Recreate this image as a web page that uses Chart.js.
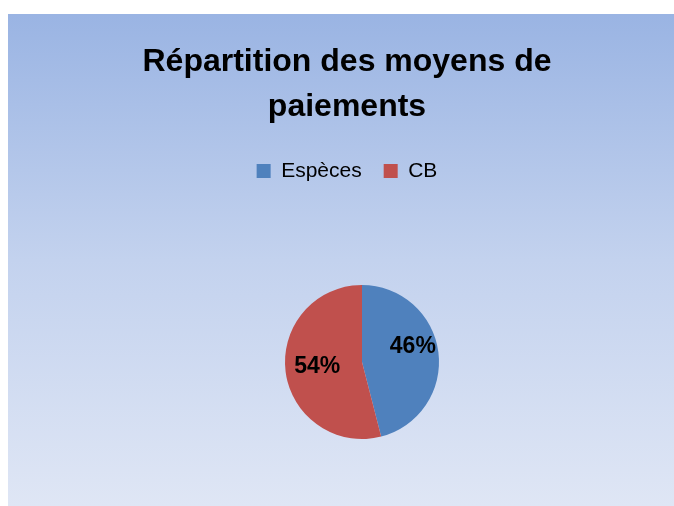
<!DOCTYPE html>
<html lang="fr">
<head>
<meta charset="utf-8">
<title>Répartition des moyens de paiements</title>
<script src="https://cdn.jsdelivr.net/npm/chart.js@4.4.1/dist/chart.umd.min.js"></script>
<style>
  html, body { margin: 0; padding: 0; background: #fff; }
  #frame {
    position: absolute;
    left: 8px;
    top: 14px;
    width: 666px;
    height: 492px;
    background: linear-gradient(to bottom, #9ab4e3 0%, #c3d2ee 50%, #dfe6f5 100%);
  }
</style>
</head>
<body>
<div id="frame"><canvas id="pie-chart" width="666" height="492"></canvas></div>
<script>
const labels = ['Espèces', 'CB'];
const shares = [46, 54];
const colors = ['#4f81bd', '#c0504d'];

const FONT = '"Liberation Sans", Arial, sans-serif';

// Move the pie inside the plot area without moving title and legend
const pieShift = {
  id: 'pieShift',
  afterLayout(chart) {
    const a = chart.chartArea;
    const cx = 354, cy = 348;
    const halfW = (a.right - a.left) / 2;
    const halfH = (a.bottom - a.top) / 2;
    a.left = cx - halfW; a.right = cx + halfW;
    a.top = cy - halfH; a.bottom = cy + halfH;
  },
};

// Percent labels inside the slices (small nudge per slice, like the office "best fit")
const labelNudge = [[5, -10], [1, -1]];
const sliceLabels = {
  id: 'sliceLabels',
  afterDatasetsDraw(chart) {
    const { ctx } = chart;
    const meta = chart.getDatasetMeta(0);
    ctx.save();
    ctx.font = 'bold 23px ' + FONT;
    ctx.fillStyle = '#000';
    ctx.textAlign = 'center';
    ctx.textBaseline = 'middle';
    meta.data.forEach((arc, i) => {
      const { x, y, startAngle, endAngle, outerRadius } = arc.getProps(['x', 'y', 'startAngle', 'endAngle', 'outerRadius'], true);
      const mid = (startAngle + endAngle) / 2;
      const r = outerRadius * 0.6;
      const [nx, ny] = labelNudge[i];
      ctx.fillText(shares[i] + '%', x + Math.cos(mid) * r + nx, y + Math.sin(mid) * r + ny);
    });
    ctx.restore();
  },
};

new Chart(document.getElementById('pie-chart'), {
  type: 'pie',
  data: {
    labels: labels,
    datasets: [{
      data: shares,
      backgroundColor: colors,
      borderWidth: 0,
      radius: 77,
    }],
  },
  options: {
    responsive: false,
    animation: false,
    layout: { padding: { left: 12 } },
    plugins: {
      title: {
        display: true,
        text: ['Répartition des moyens de', 'paiements'],
        color: '#000',
        font: { family: FONT, size: 32, weight: 'bold', lineHeight: 1.4 },
        padding: { top: 26, bottom: 9 },
      },
      legend: {
        position: 'top',
        labels: {
          color: '#000',
          font: { family: FONT, size: 21 },
          boxWidth: 14,
          boxHeight: 14,
          padding: 22,
        },
      },
      tooltip: { enabled: false },
    },
  },
  plugins: [pieShift, sliceLabels],
});
</script>
</body>
</html>
